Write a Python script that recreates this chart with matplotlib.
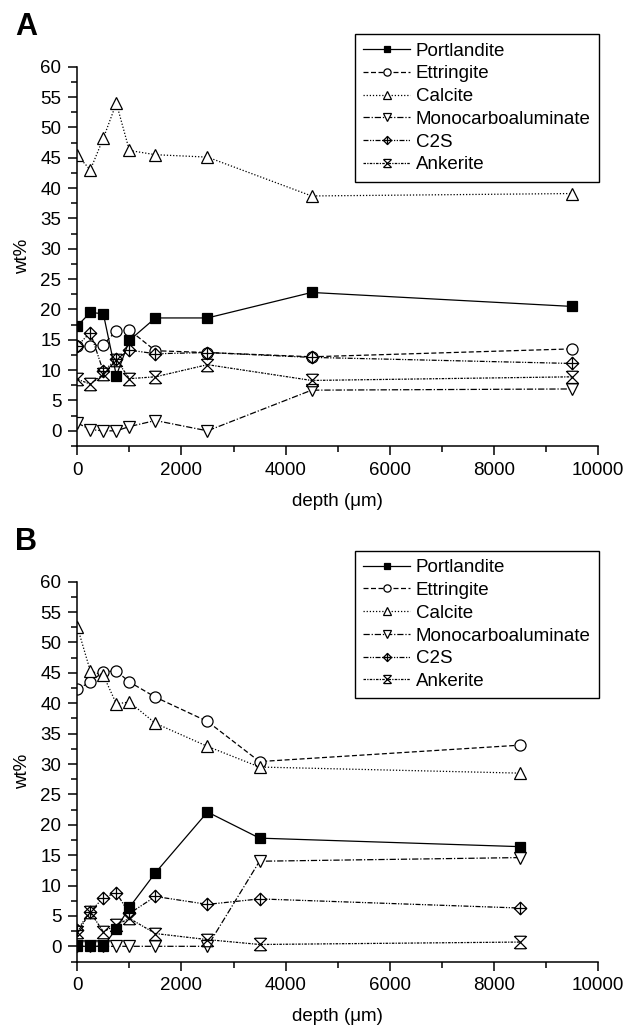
import matplotlib
matplotlib.use("Agg")
import matplotlib.pyplot as plt
from matplotlib.path import Path
import numpy as np

plt.rcParams['font.family'] = ['Liberation Sans', 'DejaVu Sans']

# ---------------- data ----------------
series_names = ["Portlandite", "Ettringite", "Calcite", "Monocarboaluminate", "C2S", "Ankerite"]

depth_a = [0, 250, 500, 750, 1000, 1500, 2500, 4500, 9500]
portlandite_a = [17.3, 19.5, 19.3, 9.1, 14.9, 18.6, 18.6, 22.8, 20.5]
ettringite_a = [14.0, 14.0, 14.2, 16.5, 16.6, 13.2, 12.9, 12.2, 13.5]
calcite_a = [45.4, 43.0, 48.2, 54.0, 46.2, 45.5, 45.1, 38.7, 39.1]
mono_a = [1.3, 0.2, 0.0, 0.0, 0.7, 1.7, 0.0, 6.7, 6.9]
c2s_a = [14.0, 16.2, 9.8, 11.8, 13.3, 12.7, 12.9, 12.1, 11.1]
ankerite_a = [8.5, 7.7, 9.3, 11.7, 8.6, 8.9, 10.9, 8.3, 8.9]

depth_b = [0, 250, 500, 750, 1000, 1500, 2500, 3500, 8500]
portlandite_b = [0.0, 0.0, 0.0, 2.9, 6.4, 12.1, 22.1, 17.8, 16.4]
ettringite_b = [42.3, 43.5, 45.2, 45.3, 43.5, 41.0, 37.0, 30.4, 33.1]
calcite_b = [52.6, 45.3, 44.6, 39.9, 40.2, 36.7, 32.9, 29.5, 28.5]
mono_b = [0.0, 0.0, 0.0, 0.0, 0.0, 0.0, 0.0, 14.0, 14.6]
c2s_b = [2.7, 5.7, 8.0, 8.8, 5.4, 8.2, 6.9, 7.8, 6.3]
ankerite_b = [2.3, 5.6, 2.4, 3.5, 4.6, 2.1, 1.1, 0.3, 0.7]

x_ticks = [0, 2000, 4000, 6000, 8000, 10000]
y_ticks = [0, 5, 10, 15, 20, 25, 30, 35, 40, 45, 50, 55, 60]

# ---------------- custom markers ----------------
diamond_plus = Path(
    [(0, 1), (1, 0), (0, -1), (-1, 0), (0, 1),
     (0, 1), (0, -1), (-1, 0), (1, 0)],
    [Path.MOVETO, Path.LINETO, Path.LINETO, Path.LINETO, Path.CLOSEPOLY,
     Path.MOVETO, Path.LINETO, Path.MOVETO, Path.LINETO])
x_hour = Path(
    [(-1, -1), (1, 1), (-1, 1), (1, -1), (-0.9, 1), (0.9, 1), (-0.9, -1), (0.9, -1)],
    [Path.MOVETO, Path.LINETO, Path.MOVETO, Path.LINETO,
     Path.MOVETO, Path.LINETO, Path.MOVETO, Path.LINETO])

styles = [
    dict(ls='-', marker='s', mfc='black', ms=7.5, z=4),
    dict(ls=(0, (4, 2)), marker='o', mfc='white', ms=8, z=2),
    dict(ls=(0, (1, 1.5)), marker='^', mfc='white', ms=8.5, z=2),
    dict(ls=(0, (5, 1.5, 1, 1.5)), marker='v', mfc='white', ms=8.5, z=2),
    dict(ls=(0, (4, 1.2, 1, 1.2, 1, 1.2)), marker=diamond_plus, mfc='white', ms=9, z=2.5),
    dict(ls=(0, (2, 1, 1, 1)), marker=x_hour, mfc='none', ms=9, z=3),
]

fig = plt.figure(figsize=(6.36, 10.27), dpi=100)

W, H = 636.0, 1027.0
ax_a = fig.add_axes([77.3 / W, 1 - 446 / H, (598 - 77.3) / W, (446 - 66.7) / H])
ax_b = fig.add_axes([77.3 / W, 1 - 961.5 / H, (598 - 77.3) / W, (961.5 - 581.7) / H])

panels = [
    (ax_a, depth_a, [portlandite_a, ettringite_a, calcite_a, mono_a, c2s_a, ankerite_a], 'A', 34, 12),
    (ax_b, depth_b, [portlandite_b, ettringite_b, calcite_b, mono_b, c2s_b, ankerite_b], 'B', 550.7, 527),
]

for ax, depth, vals, letter, legtop, lettop in panels:
    for name, v, st in zip(series_names, vals, styles):
        ax.plot(depth, v, color='black', linestyle=st['ls'], linewidth=0.9,
                marker=st['marker'], markersize=st['ms'], markerfacecolor=st['mfc'],
                markeredgecolor='black', markeredgewidth=0.9, label=name, zorder=st['z'])
    ax.set_xlim(0, 10000)
    ax.set_ylim(-2.5, 60)
    ax.set_xticks(x_ticks)
    ax.set_xticks(np.arange(1000, 10000, 2000), minor=True)
    ax.set_yticks(y_ticks)
    ax.set_yticks(np.arange(-2.5, 60, 5), minor=True)
    ax.spines['top'].set_visible(False)
    ax.spines['right'].set_visible(False)
    for s in ('left', 'bottom'):
        ax.spines[s].set_linewidth(1.1)
    ax.tick_params(which='major', direction='out', length=6.5, width=1.1, labelsize=13.5, pad=5)
    ax.tick_params(which='minor', direction='out', length=4, width=1.1)
    ax.set_ylabel('wt%', fontsize=13.5, labelpad=7)
    ax.set_xlabel('depth (\u03bcm)', fontsize=13.5, labelpad=10)
    leg = ax.legend(loc='upper left', bbox_to_anchor=(355 / W, 1 - legtop / H),
                    bbox_transform=fig.transFigure, borderaxespad=0, fontsize=13.5,
                    frameon=True, fancybox=False, edgecolor='black', framealpha=1,
                    handlelength=2.5, handletextpad=0.3, labelspacing=0.3,
                    borderpad=0.45, markerscale=0.65)
    leg.get_frame().set_linewidth(1.0)
    fig.text(15 / W, 1 - lettop / H, letter,
             fontsize=22, fontweight='bold', ha='left', va='top')

fig.savefig('out.png', dpi=100)
